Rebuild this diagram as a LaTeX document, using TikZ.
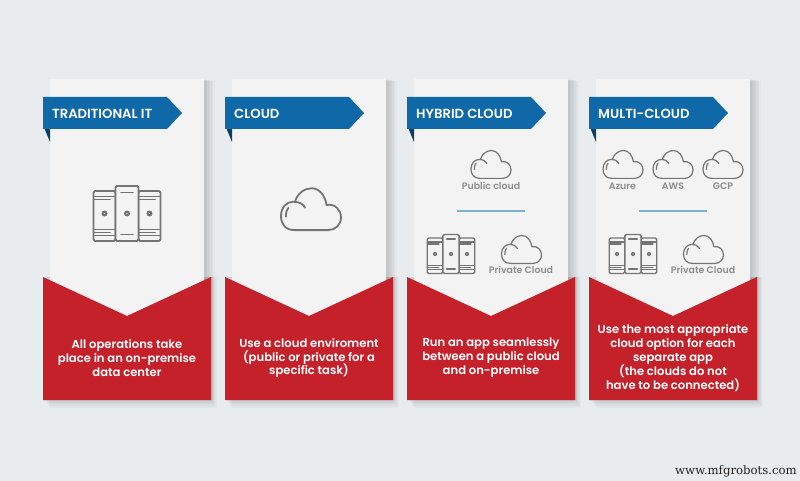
\documentclass[tikz,border=0pt]{standalone}
\usepackage{fontspec}
\setmainfont{Poppins}[BoldFont={Poppins SemiBold}]
\newfontfamily\webfont{DejaVu Serif}
\definecolor{bgc}{HTML}{E8ECEF}
\definecolor{cardc}{HTML}{F3F3F3}
\definecolor{bluec}{HTML}{0F68A8}
\definecolor{tailc}{HTML}{0B3F63}
\definecolor{redc}{HTML}{C4212B}
\definecolor{iconc}{HTML}{747474}
\definecolor{labelc}{HTML}{8C8C8C}
\definecolor{sepc}{HTML}{7DB2D3}
\definecolor{webc}{HTML}{222222}
\tikzset{
  bannertext/.style={text=white,font=\bfseries\fontsize{13.2}{15}\selectfont,anchor=west,inner sep=0pt},
  bodytext/.style={text=white,font=\bfseries\fontsize{11.6}{13.9}\selectfont,align=center,inner sep=0pt},
  icontext/.style={text=labelc,font=\bfseries\fontsize{9.4}{11}\selectfont,inner sep=0pt},
  sepline/.style={draw=sepc,line width=1.3pt},
  pics/cloudicon/.style={code={
    \draw[draw=iconc,line join=round,line cap=round]
      (-11,13.4) .. controls (-17,13.4) and (-20,9.5) .. (-20,4)
      .. controls (-20,-2) and (-16,-5.5) .. (-12,-5.5)
      .. controls (-8,-5.5) and (-5,-4) .. (-4,-1.5);
    \draw[draw=iconc,line join=round,line cap=round]
      (-10.7,-5.5) .. controls (-9,-11) and (-4.5,-14.5) .. (0.5,-14.5)
      .. controls (6,-14.5) and (9.5,-9) .. (10.4,-3.3)
      .. controls (16,-4.5) and (20,0) .. (20,5)
      .. controls (20,10) and (16,13.4) .. (11.5,13.4) -- (-11,13.4);
    \draw[draw=iconc,line cap=round] (-15,-1.5) .. controls (-16.2,-0.5) and (-16.7,1.5) .. (-16.7,4.5);
  }},
  pics/servericon/.style={code={
    \begin{scope}[draw=iconc,line join=round,line cap=round,rounded corners=1.5]
      \draw (-11.5,-22.5) rectangle (-33.5,27.5);
      \draw (11.5,-22.5) rectangle (33.5,27.5);
      \draw[fill=cardc] (-11.5,-27.5) rectangle (11.5,27.5);
    \end{scope}
    \begin{scope}[draw=iconc,line cap=round]
      \draw (-33,-17) -- (-12,-17) (-33,-14) -- (-17,-14);
      \draw (12,-17) -- (33,-17) (12,-14) -- (28,-14);
      \draw (-6,-21) -- (6,-21);
      \draw (-33,16) -- (-12,16) (-33,19) -- (-17,19) (-33,22) -- (-12,22);
      \draw (12,16) -- (33,16) (12,19) -- (28,19) (12,22) -- (33,22);
      \draw (-6,21) -- (6,21);
    \end{scope}
    \foreach \dx in {-22.5,0,22.5}{
      \fill[iconc] (\dx,0) circle (3);
      \fill[cardc] (\dx,0) circle (0.7);
    }
  }}
}
\newcommand{\cardbase}[3]{%
  \begin{scope}[shift={(#1,0)}]
    \foreach \k in {1,...,7}{
      \fill[black,opacity=0.024] (50+\k,79+0.3*\k) rectangle (204+1.5*\k,400);
      \fill[black,opacity=0.018] (43+\k,277) rectangle (211+\k*0.8,400+\k*1.1);
    }
    \fill[cardc] (50,79) rectangle (204,317);
    \fill[redc] (43,277) -- (127,316) -- (211,277) -- (211,400) -- (43,400) -- cycle;
    \fill[tailc] (43,125) -- (50,125) -- (50,142) -- cycle;
    \fill[bluec] (43,97) -- (167,97) -- (182,113) -- (167,129) -- (43,129) -- cycle;
    \node[bannertext] (banner#3) at (52,113.5) {#2};
  \end{scope}}
\begin{document}
\begin{tikzpicture}[x=1pt,y=-1pt]
\useasboundingbox (0,0) rectangle (800,481);
\fill[bgc] (0,0) rectangle (800,481);

\cardbase{0}{TRADITIONAL IT}{a}
\cardbase{182}{CLOUD}{b}
\cardbase{364}{HYBRID CLOUD}{c}
\cardbase{546}{MULTI-CLOUD}{d}

% card 1
\pic[line width=1.9pt] at (127,213.5) {servericon};
\node[bodytext] (texta) at (127,358) {All operations take\\place in an on-premise\\data center};

% card 2
\pic[line width=1.8pt,scale=1.5] at (311,210) {cloudicon};
\node[bodytext] (textb) at (309,358) {Use a cloud enviroment\\(public or private for a\\specific task)};

% card 3
\pic[line width=1.2pt] at (491,165) {cloudicon};
\node[icontext] (pubc) at (491,185.5) {Public cloud};
\draw[sepline] (457,211) -- (525,211);
\pic[line width=1.4pt,scale=0.71] at (451,254) {servericon};
\pic[line width=1.2pt] at (521.5,250) {cloudicon};
\node[icontext] (privc) at (521,269.5) {Private Cloud};
\node[bodytext] (textc) at (491,358) {Run an app seamlessly\\between a public cloud\\and on-premise};

% card 4
\pic[line width=1.2pt] at (623,165) {cloudicon};
\pic[line width=1.2pt] at (673,165) {cloudicon};
\pic[line width=1.2pt] at (723,165) {cloudicon};
\node[icontext] (azure) at (622.5,186) {Azure};
\node[icontext] (aws) at (673,186) {AWS};
\node[icontext] (gcp) at (723,186) {GCP};
\draw[sepline] (639,211) -- (707,211);
\pic[line width=1.4pt,scale=0.71] at (633,254) {servericon};
\pic[line width=1.2pt] at (703.5,250) {cloudicon};
\node[icontext] (privd) at (703,269.5) {Private Cloud};
\node[bodytext] (textd) at (673,358) {Use the most appropriate\\cloud option for each\\separate app\\(the clouds do not\\have to be connected)};

\node[anchor=east,inner sep=0pt,text=webc,font=\webfont\fontsize{11.7}{13}\selectfont] (web) at (797,471) {www.mfgrobots.com};
\end{tikzpicture}
\end{document}
